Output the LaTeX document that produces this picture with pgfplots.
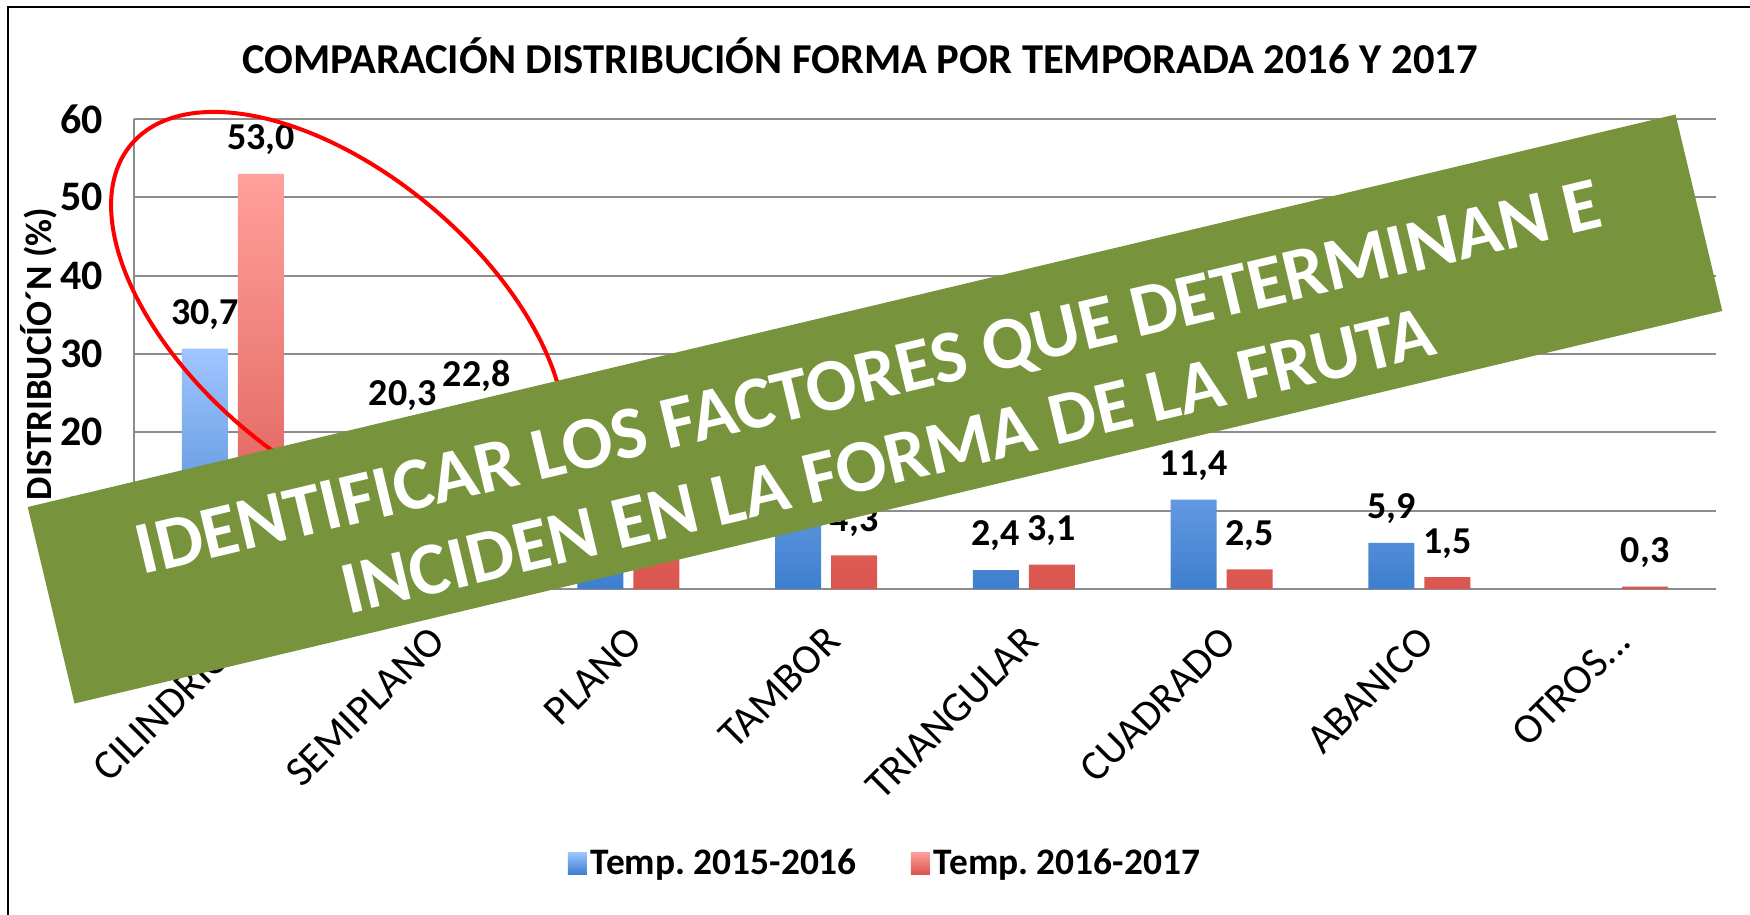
\documentclass[border=0pt]{standalone}
\usepackage{fontspec}
\setmainfont{Carlito}
\usepackage{pgfplots}
\pgfplotsset{compat=1.18}
\definecolor{bluetop}{RGB}{160,198,255}
\definecolor{bluebot}{RGB}{62,126,206}
\definecolor{redtop}{RGB}{255,160,156}
\definecolor{redbot}{RGB}{218,86,78}
\definecolor{bannergreen}{RGB}{119,147,60}
\definecolor{gridgray}{RGB}{140,140,140}
\pgfplotsset{mylegend/.style={legend image code/.code={\draw[##1,draw=none] (0pt,-5.5pt) rectangle (9.5pt,5.5pt);}}}
\frenchspacing
\begin{document}
\begin{tikzpicture}[x=1pt,y=1pt]
\useasboundingbox (0,0) rectangle (875,457.5);
\fill[white] (0,0) rectangle (875,457.5);
\draw[black, line width=1pt] (4,0) -- (4,454) -- (875,454);
\node[font=\fontsize{21.3}{21.3}\selectfont\bfseries] at (430,429.5) {COMPARACIÓN DISTRIBUCIÓN FORMA POR TEMPORADA 2016 Y 2017};
\begin{axis}[
  at={(67pt,163pt)}, anchor=south west,
  scale only axis, width=791pt, height=235pt,
  xmin=-0.5, xmax=7.5, ymin=0, ymax=60,
  ytick={0,10,20,30,40,50,60},
  xtick={0,1,2,3,4,5,6,7},
  xticklabels={CILINDRICO,SEMIPLANO,PLANO,TAMBOR,TRIANGULAR,CUADRADO,ABANICO,{OTROS.{}.{}.}},
  axis x line*=bottom, axis y line*=left,
  axis line style={gridgray, line width=0.9pt, -},
  ymajorgrids, grid style={gridgray, line width=0.9pt},
  major tick length=0pt,
  ybar=5pt, bar width=23pt,
  /pgf/number format/assume math mode=true,
  yticklabel style={font=\fontsize{21}{21}\selectfont\bfseries, xshift=-12pt},
  xticklabel style={font=\fontsize{21}{21}\selectfont, xshift=3.5pt, yshift=-22.5pt, rotate=45, anchor=east, inner sep=0pt},
  ylabel={DISTRIBUCÍO´N (\%)},
  every axis y label/.style={at={(rel axis cs:0,0.5)}, xshift=-47.5pt, rotate=90, anchor=center, font=\fontsize{18.5}{18.5}\selectfont\bfseries},
  nodes near coords={\pgfmathprintnumber[fixed,fixed zerofill,precision=1,use comma]{\pgfplotspointmeta}},
  every node near coord/.append style={font=\fontsize{19}{19}\selectfont\bfseries, black, yshift=6pt},
  legend style={at={(axis description cs:0.4753,-0.583)}, anchor=center, draw=none, fill=none, legend columns=2, font=\fontsize{18.7}{18.7}\selectfont\bfseries, /tikz/every even column/.append style={column sep=25pt}},
]
\addplot[draw=none, top color=bluetop, bottom color=bluebot, mylegend] coordinates {(0,30.7) (1,20.3) (2,16.0) (3,13.3) (4,2.4) (5,11.4) (6,5.9)};
\addlegendentry{Temp. 2015-2016}
\addplot[draw=none, top color=redtop, bottom color=redbot, mylegend,
  every node near coord/.append style={xshift={(\coordindex==1)*9}}] coordinates {(0,53.0) (1,22.8) (2,12.5) (3,4.3) (4,3.1) (5,2.5) (6,1.5) (7,0.3)};
\addlegendentry{Temp. 2016-2017}
\end{axis}
\draw[red, line width=2pt] (169,298.5) ellipse [x radius=135pt, y radius=72.5pt, rotate=-40];
\node[fill=bannergreen, minimum width=847pt, minimum height=101pt, rotate=13.4, inner sep=0pt] at (437.5,253) {};
\node[text=white, align=center, rotate=13.4, font=\fontsize{37.3}{43}\selectfont\bfseries] at (439,248) {IDENTIFICAR LOS FACTORES QUE DETERMINAN E\\INCIDEN EN LA FORMA DE LA FRUTA};
\end{tikzpicture}
\end{document}
